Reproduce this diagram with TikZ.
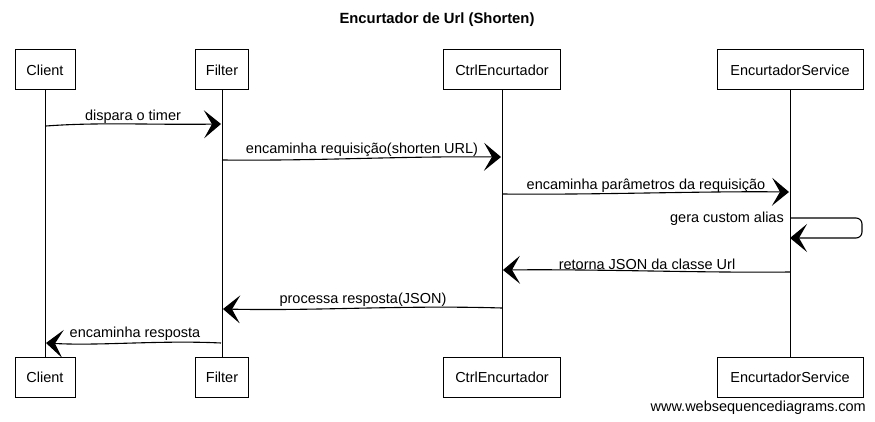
\documentclass[tikz,border=0pt]{standalone}
\usepackage{fontspec}
\setmainfont{Liberation Sans}
\usetikzlibrary{arrows.meta}
\begin{document}
\begin{tikzpicture}[x=1pt,y=-1pt,
  actor/.style={draw, line width=1pt, minimum height=40pt, inner sep=0pt, font=\fontsize{14.5}{16}\selectfont},
  life/.style={line width=0.9pt},
  msg/.style={line width=1.1pt, -{Stealth[length=17pt,width=28pt,inset=8pt]}},
  lbl/.style={font=\fontsize{14.5}{16}\selectfont, inner sep=0pt}
]
\useasboundingbox[fill=white] (0,0) rectangle (875,422);
\node[font=\bfseries\fontsize{14.8}{17}\selectfont] (title) at (437,20) {Encurtador de Url (Shorten)};

% top actors
\node[actor, minimum width=60pt]  (cT) at (45,70)  {Client};
\node[actor, minimum width=53pt]  (fT) at (222,70) {Filter};
\node[actor, minimum width=117pt] (kT) at (502,70) {CtrlEncurtador};
\node[actor, minimum width=146pt] (sT) at (790,70) {EncurtadorService};
% bottom actors
\node[actor, minimum width=60pt]  (cB) at (45,377)  {Client};
\node[actor, minimum width=53pt]  (fB) at (222,377) {Filter};
\node[actor, minimum width=117pt] (kB) at (502,377) {CtrlEncurtador};
\node[actor, minimum width=146pt] (sB) at (790,377) {EncurtadorService};

% lifelines
\draw[life] (cT.south) -- (cB.north);
\draw[life] (fT.south) -- (fB.north);
\draw[life] (kT.south) -- (kB.north);
\draw[life] (sT.south) -- (sB.north);

% message points
\coordinate (c1) at (46,126);  \coordinate (f1) at (221,124);
\coordinate (f2) at (222,160); \coordinate (k2) at (501,157);
\coordinate (k3) at (502,194); \coordinate (s3) at (789,192);
\coordinate (s4a) at (790,218); \coordinate (s4b) at (790,238);
\coordinate (s4r) at (862,228);
\coordinate (s5) at (790,272); \coordinate (k5) at (503,270);
\coordinate (k6) at (502,308); \coordinate (f6) at (223,309);
\coordinate (f7) at (221,343); \coordinate (c7) at (46,343);

\draw[msg] (c1) .. controls (100,122) and (150,125) .. (f1);
\node[lbl] (l1) at (133,117) {dispara o timer};
\draw[msg] (f2) .. controls (320,161) and (400,156) .. (k2);
\node[lbl] (l2) at (362,150) {encaminha requisição(shorten URL)};
\draw[msg] (k3) .. controls (600,195) and (700,191) .. (s3);
\node[lbl] (l3) at (646,186) {encaminha parâmetros da requisição};
\draw[msg, rounded corners=6pt] (s4a) -- (s4a -| s4r) -- (s4b -| s4r) -- (s4b);
\node[lbl, anchor=east] (l4) at (784,219) {gera custom alias};
\draw[msg] (s5) .. controls (700,273) and (600,269) .. (k5);
\node[lbl] (l5) at (647,264) {retorna JSON da classe Url};
\draw[msg] (k6) .. controls (400,305) and (320,311) .. (f6);
\node[lbl] (l6) at (363,300) {processa resposta(JSON)};
\draw[msg] (f7) .. controls (160,340) and (100,346) .. (c7);
\node[lbl] (l7) at (135,334) {encaminha resposta};

\node[lbl, anchor=east] (wm) at (866,408) {www.websequencediagrams.com};
\end{tikzpicture}
\end{document}
